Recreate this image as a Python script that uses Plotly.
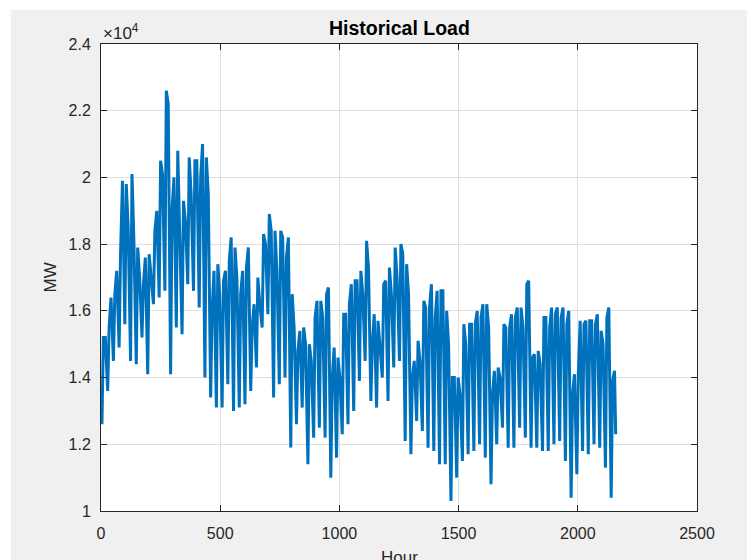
import plotly.graph_objects as go

# Load readings (MW) from the reference chart, one entry per day (day 0..89):
# night trough, morning peak and evening peak.
trough_mw = [12600, 13600, 14500, 14900, 15600, 14500, 14400, 15200, 14100, 16200,
             16400, 16600, 14100, 15500, 15300, 16800, 16600, 16100, 14000, 13400,
             13100, 13100, 13800, 13000, 13100, 13200, 13600, 14300, 15500, 15900,
             13400, 13800, 14000, 11900, 12600, 13100, 11400, 12200, 12500, 12200,
             11000, 11600, 12300, 12600, 13000, 13900, 14500, 13300, 13100, 14000,
             13300, 14300, 14500, 12100, 11700, 12700, 12400, 11900, 11800, 11400,
             11400, 10300, 11000, 11500, 11700, 11800, 12000, 11600, 10800, 12000,
             12500, 11900, 11900, 12500, 12200, 11900, 11900, 11800, 11800, 12000,
             12100, 11500, 10400, 11100, 11800, 11700, 12000, 11900, 11300, 10400]
peak_am_mw = [15200, 15500, 16500, 17700, 19800, 20100, 17900, 16800, 17700, 18400,
              20500, 22600, 19000, 20800, 19300, 20600, 20500, 20000, 20600, 16000,
              17400, 16900, 17500, 17900, 16500, 17300, 15500, 17000, 18300, 18900,
              18400, 18400, 17600, 16500, 14800, 15500, 15000, 15800, 16300, 16500,
              14000, 14600, 15900, 16200, 16900, 17200, 18100, 15000, 15700, 16800,
              17300, 17900, 18000, 17400, 14000, 15100, 16300, 16100, 15800, 16600,
              16000, 14000, 14000, 15600, 15600, 15600, 15800, 16200, 13500, 14300,
              15600, 15500, 15800, 16100, 16800, 14600, 14800, 15800, 15500, 15900,
              15800, 15600, 13500, 14100, 15600, 15700, 15600, 15400, 15800, 13900]
peak_pm_mw = [15200, 16400, 17200, 19900, 18500, 18100, 17000, 17600, 16900, 19000,
              20100, 22200, 20000, 18100, 18700, 19500, 20500, 21000, 19500, 17200,
              16500, 17200, 18200, 17000, 17200, 17900, 16200, 16200, 18000, 18400,
              17200, 18200, 18200, 15500, 15400, 15000, 14500, 16300, 15800, 16700,
              14900, 14000, 15900, 16800, 16900, 16500, 17300, 15900, 15000, 16900,
              16500, 17000, 17700, 16500, 14500, 14500, 16100, 16800, 16600, 16600,
              15000, 14000, 13500, 15000, 15600, 16000, 16200, 15500, 14200, 14000,
              15500, 15900, 16100, 15500, 16900, 14700, 14400, 15800, 16100, 16100,
              16100, 16000, 14100, 15700, 15700, 15700, 15900, 15000, 16100, 14200]
start_mw = 13500
end_mw = 12300
trough_hour = 4
am_hour = 10
pm_hour = 18
last_hour = 2159

x_ticks = [0, 500, 1000, 1500, 2000, 2500]
y_ticks = [10000, 12000, 14000, 16000, 18000, 20000, 22000, 24000]
y_tick_text = ["1", "1.2", "1.4", "1.6", "1.8", "2", "2.2", "2.4"]

hours = [0]
load = [start_mw]
for d, (lo, am, pm) in enumerate(zip(trough_mw, peak_am_mw, peak_pm_mw)):
    hours += [d * 24 + trough_hour, d * 24 + am_hour, d * 24 + pm_hour]
    load += [lo, am, pm]
hours.append(last_hour)
load.append(end_mw)

fig = go.Figure()
fig.add_trace(go.Scatter(x=hours, y=load, mode="lines",
                         line=dict(color="#0072BD", width=3), showlegend=False))

FONT = "Liberation Sans, Arial, sans-serif"
axis_font = dict(family=FONT, size=16, color="#262626")
common = dict(showline=True, linecolor="#262626", linewidth=1, mirror="ticks",
              ticks="inside", ticklen=6, tickcolor="#262626", showgrid=True,
              gridcolor="#dfdfdf", gridwidth=1, zeroline=False, tickfont=axis_font)

fig.update_xaxes(range=[0, 2500], tickvals=x_ticks, ticklabelstandoff=8, **common)
fig.update_yaxes(range=[10000, 24000], tickvals=y_ticks, ticktext=y_tick_text,
                 ticklabelstandoff=6, **common)

W, H = 747, 560
L, R, T, B = 101, 50, 44, 49
pw, ph = W - L - R, H - T - B

def px(xp):
    return (xp - L) / pw

def py(yp):
    return (H - B - yp) / ph

fig.update_layout(
    width=W, height=H,
    margin=dict(l=L, r=R, t=T, b=B),
    paper_bgcolor="#f0f0f0", plot_bgcolor="white",
    shapes=[
        dict(type="rect", xref="paper", yref="paper", x0=px(-5), x1=px(11), y0=py(570), y1=py(-5),
             fillcolor="white", line_width=0, layer="below"),
        dict(type="rect", xref="paper", yref="paper", x0=px(-5), x1=px(760), y0=py(10), y1=py(-5),
             fillcolor="white", line_width=0, layer="below"),
    ],
    annotations=[
        dict(text="<b>Historical Load</b>", xref="paper", yref="paper", x=0.5, y=py(28),
             xanchor="center", yanchor="middle", showarrow=False,
             font=dict(family=FONT, size=19.5, color="black")),
        dict(text="×10<sup>4</sup>", xref="paper", yref="paper", x=px(101), y=py(45),
             xanchor="left", yanchor="bottom", showarrow=False,
             font=dict(family=FONT, size=17, color="#262626")),
        dict(text="MW", xref="paper", yref="paper", x=px(50), y=0.5, textangle=-90,
             xanchor="center", yanchor="middle", showarrow=False,
             font=dict(family=FONT, size=17, color="#262626")),
        dict(text="Hour", xref="paper", yref="paper", x=0.5, y=py(557),
             xanchor="center", yanchor="middle", showarrow=False,
             font=dict(family=FONT, size=17, color="#262626")),
    ],
)

fig.write_html("out.html")
